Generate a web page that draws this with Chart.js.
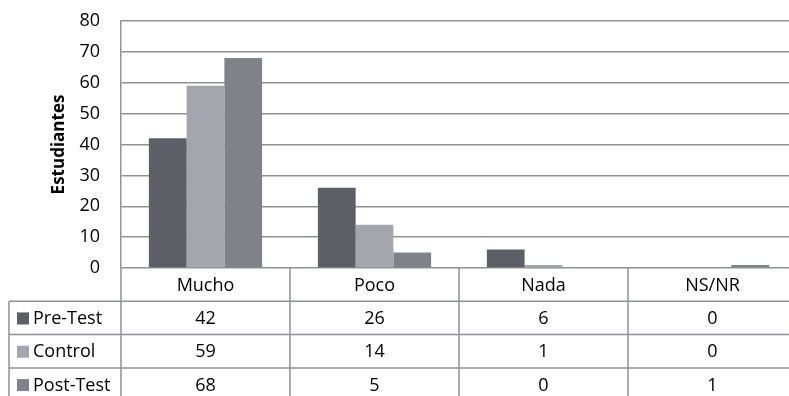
<!DOCTYPE html>
<html>
<head>
<meta charset="utf-8">
<script src="https://cdn.jsdelivr.net/npm/chart.js@4.4.1/dist/chart.umd.min.js"></script>
<style>
  html, body { margin: 0; padding: 0; background: #fff; overflow: hidden; }
  canvas { display: block; }
</style>
</head>
<body>
<canvas id="respuestasChart" width="800" height="396"></canvas>
<script>
const categorias = ["Mucho", "Poco", "Nada", "NS/NR"];
const preTest = [42, 26, 6, 0];
const control = [59, 14, 1, 0];
const postTest = [68, 5, 0, 1];
const yTicks = [0, 10, 20, 30, 40, 50, 60, 70, 80];

const FONT = "'Open Sans', 'Liberation Sans', sans-serif";
const lineColor = "#8e9196";

const series = [
  { label: "Pre-Test", data: preTest, color: "#5c5f65" },
  { label: "Control", data: control, color: "#a3a6ac" },
  { label: "Post-Test", data: postTest, color: "#7f8288" }
];

// data table drawn under the plot, one column per category
const dataTable = {
  id: "dataTable",
  afterDraw(chart) {
    const ctx = chart.ctx;
    const x = chart.scales.x;
    const area = chart.chartArea;
    const rowH = 33.3;
    const tableLeft = 9;
    const half = (x.getPixelForValue(1) - x.getPixelForValue(0)) / 2;
    const colEdges = [];
    categorias.forEach((c, i) => colEdges.push(x.getPixelForValue(i) - half));
    colEdges.push(x.getPixelForValue(categorias.length - 1) + half);
    const top = area.bottom;
    const bottom = top + rowH * (series.length + 1);

    ctx.save();
    ctx.strokeStyle = lineColor;
    ctx.lineWidth = 1.5;
    // vertical column lines
    colEdges.forEach(ex => {
      ctx.beginPath();
      ctx.moveTo(ex, top);
      ctx.lineTo(ex, bottom);
      ctx.stroke();
    });
    ctx.beginPath();
    ctx.moveTo(tableLeft, top + rowH);
    ctx.lineTo(tableLeft, bottom);
    ctx.stroke();
    // row lines
    for (let r = 1; r <= series.length + 1; r++) {
      ctx.beginPath();
      ctx.moveTo(tableLeft, top + rowH * r);
      ctx.lineTo(colEdges[colEdges.length - 1], top + rowH * r);
      ctx.stroke();
    }

    ctx.fillStyle = "#000";
    ctx.font = "18px " + FONT;
    ctx.textAlign = "center";
    ctx.textBaseline = "middle";
    categorias.forEach((c, i) => {
      ctx.fillText(c, x.getPixelForValue(i), top + rowH / 2 + 1);
    });
    series.forEach((s, r) => {
      const cy = top + rowH * (r + 1.5) + 1;
      ctx.fillStyle = s.color;
      ctx.fillRect(17, cy - 6.5, 12, 12);
      ctx.fillStyle = "#000";
      ctx.textAlign = "left";
      ctx.fillText(s.label, 33, cy);
      ctx.textAlign = "center";
      s.data.forEach((v, i) => ctx.fillText(String(v), x.getPixelForValue(i), cy));
    });
    ctx.restore();
  }
};

const ctx = document.getElementById("respuestasChart").getContext("2d");

new Chart(ctx, {
  type: "bar",
  data: {
    labels: categorias,
    datasets: series.map(s => ({
      label: s.label,
      data: s.data,
      backgroundColor: s.color,
      borderWidth: 0,
      categoryPercentage: 0.67,
      barPercentage: 1
    }))
  },
  options: {
    responsive: false,
    animation: false,
    layout: { padding: { top: 21, right: 3, bottom: 128, left: 0 } },
    plugins: {
      legend: { display: false },
      tooltip: { enabled: false }
    },
    scales: {
      x: { display: false },
      y: {
        min: 0,
        max: 80,
        afterBuildTicks: axis => { axis.ticks = yTicks.map(v => ({ value: v })); },
        afterFit: axis => { axis.width = 121; },
        ticks: {
          color: "#000",
          padding: 0,
          font: { family: FONT, size: 18 }
        },
        // invisible tick marks keep the labels clear of the axis
        grid: { color: lineColor, lineWidth: 1.5, drawTicks: true, tickLength: 21, tickColor: "rgba(0,0,0,0)" },
        border: { color: lineColor, width: 1.5 },
        title: {
          display: true,
          text: "Estudiantes",
          color: "#000",
          padding: { top: 49, bottom: 0 },
          font: { family: FONT, size: 17, weight: "bold" }
        }
      }
    }
  },
  plugins: [dataTable]
});
</script>
</body>
</html>
